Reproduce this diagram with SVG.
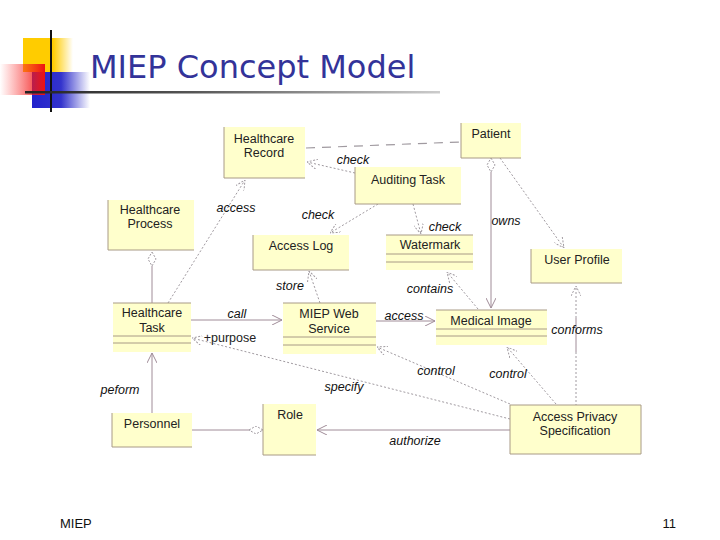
<svg xmlns="http://www.w3.org/2000/svg" width="720" height="540" viewBox="0 0 720 540">
<style>
.box{fill:#ffffcc;stroke:none}
.edge{fill:none;stroke:#a89a86;stroke-width:1}
.t{font-family:"Liberation Sans",Arial,sans-serif;font-size:12.5px;fill:#222;text-anchor:middle}
.lbl{font-family:"Liberation Sans",Arial,sans-serif;font-size:12.5px;font-style:italic;fill:#111;text-anchor:middle}
.solid{fill:none;stroke:#a08c98;stroke-width:1}
.dot{fill:none;stroke:#a09aa0;stroke-width:1;stroke-dasharray:2,2}
.dash{fill:none;stroke:#a09aa0;stroke-width:1.2;stroke-dasharray:9,7}
</style>
<defs>
<marker id="arr" viewBox="0 0 10 10" refX="10" refY="5" markerWidth="10" markerHeight="10" markerUnits="userSpaceOnUse" orient="auto">
<path d="M0,0 L10,5 L0,10" fill="none" stroke="#a08c98" stroke-width="1"/>
</marker>
<marker id="darr" viewBox="0 0 10 10" refX="10" refY="5" markerWidth="10" markerHeight="10" markerUnits="userSpaceOnUse" orient="auto">
<path d="M0,0 L10,5 L0,10" fill="none" stroke="#a09aa0" stroke-width="1" stroke-dasharray="2,1.5"/>
</marker>
<marker id="dia" viewBox="0 0 14 8" refX="14" refY="4" markerWidth="14" markerHeight="8" markerUnits="userSpaceOnUse" orient="auto">
<path d="M0,4 L7,0 L14,4 L7,8 Z" fill="#fff" stroke="#a09aa0" stroke-width="1" stroke-dasharray="2,1.5"/>
</marker>
<linearGradient id="yel" x1="0" y1="0" x2="1" y2="0"><stop offset="0" stop-color="#ffcc00"/><stop offset="0.6" stop-color="#ffcc00"/><stop offset="1" stop-color="#ffcc00" stop-opacity="0"/></linearGradient>
<linearGradient id="red" x1="0" y1="0" x2="1" y2="0"><stop offset="0" stop-color="#ff3333" stop-opacity="0"/><stop offset="1" stop-color="#ee1111"/></linearGradient>
<linearGradient id="blu" x1="0" y1="0" x2="1" y2="0"><stop offset="0" stop-color="#2222cc"/><stop offset="0.5" stop-color="#3333cc"/><stop offset="1" stop-color="#3333cc" stop-opacity="0"/></linearGradient>
<linearGradient id="ln" x1="0" y1="0" x2="1" y2="0"><stop offset="0" stop-color="#222"/><stop offset="0.4" stop-color="#555"/><stop offset="1" stop-color="#ccc"/></linearGradient>
</defs>
<rect width="720" height="540" fill="#fff"/>
<g id="title-deco">
<rect x="23" y="38" width="50" height="34" fill="url(#yel)"/>
<rect x="32" y="72" width="58" height="36" fill="url(#blu)"/>
<rect x="0" y="64" width="45" height="31" fill="url(#red)"/>
<rect x="50" y="30" width="2" height="82" fill="#111"/>
<rect x="25" y="91" width="415" height="2.5" fill="url(#ln)"/>
</g>
<text x="90" y="78" font-family="Tahoma,'DejaVu Sans',sans-serif" font-size="32" fill="#333399">MIEP Concept Model</text>

<g id="connectors">
<path class="dash" d="M306,148 L460,142"/>
<path class="dot" d="M355,173 L307,162" marker-end="url(#darr)"/>
<path class="dot" d="M378,204 L330,233" marker-end="url(#darr)"/>
<path class="dot" d="M413,204 L421,234" marker-end="url(#darr)"/>
<path class="solid" d="M491,172 L491,308" marker-end="url(#arr)"/>
<path d="M491,158 L495,165 L491,172 L487,165 Z" fill="#fff" stroke="#a09aa0" stroke-width="1" stroke-dasharray="2,1.5"/>
<path class="dot" d="M500,158 L564,248" marker-end="url(#darr)"/>
<path class="dot" d="M576,318 L576,286" marker-end="url(#darr)"/>
<path class="solid" d="M576,318 L576,352"/>
<path class="dot" d="M576,352 L576,405"/>
<path class="dot" d="M478,309 L447,272" marker-end="url(#darr)"/>
<path class="solid" d="M376,321 L435,321" marker-end="url(#arr)"/>
<path class="solid" d="M191,320 L282,320" marker-end="url(#arr)"/>
<path class="dot" d="M510,419 L192,338" marker-end="url(#darr)"/>
<path class="dot" d="M510,404 L377,347" marker-end="url(#darr)"/>
<path class="dot" d="M556,404 L507,347" marker-end="url(#darr)"/>
<path class="solid" d="M510,430 L317,430" marker-end="url(#arr)"/>
<path class="solid" d="M192,430 L263,430" marker-end="url(#dia)"/>
<path class="solid" d="M152,413 L152,353" marker-end="url(#arr)"/>
<path class="solid" d="M152,303 L152,266"/>
<path d="M152,252 L156,259 L152,266 L148,259 Z" fill="#fff" stroke="#a09aa0" stroke-width="1" stroke-dasharray="2,1.5"/>
<path class="dot" d="M168,303 L245,180" marker-end="url(#darr)"/>
<path class="dot" d="M320,303 L309,271" marker-end="url(#darr)"/>
<text class="lbl" x="353" y="164">check</text>
<text class="lbl" x="318" y="219">check</text>
<text class="lbl" x="445" y="231">check</text>
<text class="lbl" x="506" y="225">owns</text>
<text class="lbl" x="236" y="212">access</text>
<text class="lbl" x="290" y="290">store</text>
<text class="lbl" x="430" y="293">contains</text>
<text class="lbl" x="237" y="318">call</text>
<text class="lbl" x="404" y="320">access</text>
<text class="lbl" x="577" y="334">conforms</text>
<text class="t" x="230" y="342">+purpose</text>
<text class="lbl" x="436" y="375">control</text>
<text class="lbl" x="508" y="378">control</text>
<text class="lbl" x="344" y="391">specify</text>
<text class="lbl" x="120" y="394">peform</text>
<text class="lbl" x="415" y="445">authorize</text>
</g>

<g id="healthcare-record">
<rect class="box" x="224" y="127" width="81" height="51"/>
<path class="edge" d="M224,127 L224,178 L305,178"/>
<text class="t" x="264" y="143">Healthcare</text>
<text class="t" x="264" y="157">Record</text>
</g>
<g id="patient">
<rect class="box" x="461" y="123" width="60" height="35"/>
<path class="edge" d="M461,123 L461,158 L521,158"/>
<text class="t" x="491" y="138">Patient</text>
</g>
<g id="auditing-task">
<rect class="box" x="355" y="167" width="106" height="37"/>
<path class="edge" d="M355,167 L355,204 L461,204"/>
<text class="t" x="408" y="184">Auditing Task</text>
</g>
<g id="healthcare-process">
<rect class="box" x="108" y="200" width="86" height="50"/>
<path class="edge" d="M108,200 L108,250 L194,250"/>
<text class="t" x="150" y="214">Healthcare</text>
<text class="t" x="150" y="228">Process</text>
</g>
<g id="access-log">
<rect class="box" x="253" y="235" width="96" height="35"/>
<path class="edge" d="M253,235 L253,270 L349,270"/>
<text class="t" x="301" y="250">Access Log</text>
</g>
<g id="watermark">
<rect class="box" x="386" y="235" width="87" height="35"/>
<path class="edge" d="M386,235 L473,235 M386,254 L473,254 M386,262 L473,262"/>
<text class="t" x="430" y="249">Watermark</text>
</g>
<g id="user-profile">
<rect class="box" x="531" y="249" width="91" height="34"/>
<path class="edge" d="M531,249 L531,283 L622,283"/>
<text class="t" x="577" y="264">User Profile</text>
</g>
<g id="healthcare-task">
<rect class="box" x="113" y="303" width="78" height="49"/>
<path class="edge" d="M113,303 L191,303 M113,336 L191,336 M113,343 L191,343"/>
<text class="t" x="152" y="317">Healthcare</text>
<text class="t" x="152" y="332">Task</text>
</g>
<g id="miep-web-service">
<rect class="box" x="283" y="303" width="93" height="51"/>
<path class="edge" d="M283,303 L376,303 M283,337 L376,337 M283,345 L376,345"/>
<text class="t" x="329" y="318">MIEP Web</text>
<text class="t" x="329" y="333">Service</text>
</g>
<g id="medical-image">
<rect class="box" x="436" y="310" width="111" height="35"/>
<path class="edge" d="M436,310 L547,310 M436,329 L547,329 M436,336 L547,336"/>
<text class="t" x="491" y="325">Medical Image</text>
</g>
<g id="personnel">
<rect class="box" x="112" y="413" width="80" height="34"/>
<path class="edge" d="M112,413 L112,447 L192,447"/>
<text class="t" x="152" y="428">Personnel</text>
</g>
<g id="role">
<rect class="box" x="263" y="404" width="53" height="51"/>
<path class="edge" d="M263,404 L263,455 L316,455"/>
<text class="t" x="290" y="419">Role</text>
</g>
<g id="access-privacy-specification">
<rect class="box" x="510" y="405" width="131" height="49"/>
<path class="edge" d="M510,405 L641,405 L641,454 L510,454 Z"/>
<text class="t" x="575" y="421">Access Privacy</text>
<text class="t" x="575" y="435">Specification</text>
</g>
<text x="60" y="528" font-family="'Liberation Sans',Arial,sans-serif" font-size="13" fill="#111">MIEP</text>
<text x="676" y="528" font-family="'Liberation Sans',Arial,sans-serif" font-size="13" fill="#111" text-anchor="end">11</text>
</svg>
